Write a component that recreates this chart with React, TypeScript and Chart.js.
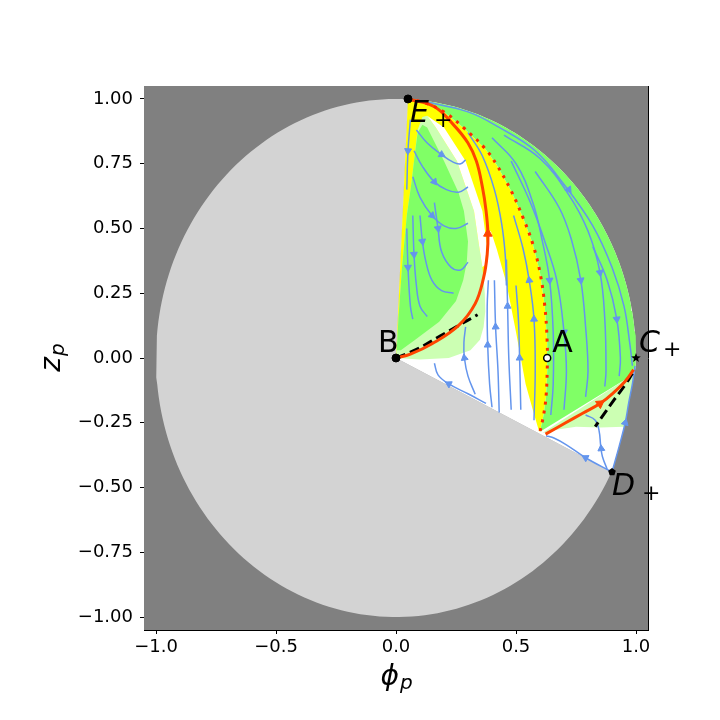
import React, { useEffect, useRef } from "react";
import { Chart, registerables } from "chart.js";

Chart.register(...registerables);

type Pt = [number, number];

// ---------- axes ----------
const AXIS_MIN = -1.05;
const AXIS_MAX = 1.05;
const X_TICKS = [-1, -0.5, 0, 0.5, 1];
const X_TICK_LABELS = ["\u22121.0", "\u22120.5", "0.0", "0.5", "1.0"];
const Y_TICKS = [-1, -0.75, -0.5, -0.25, 0, 0.25, 0.5, 0.75, 1];
const Y_TICK_LABELS = ["\u22121.00", "\u22120.75", "\u22120.50", "\u22120.25", "0.00", "0.25", "0.50", "0.75", "1.00"];

// ---------- critical points ----------
const POINT_NAMES = ["B", "A", "C", "D", "E"];
const POINT_SUBS = ["", "", "+", "+", "+"];
const POINT_X = [0, 0.63, 1.0, 0.9, 0.05];
const POINT_Y = [0, 0, 0, -0.44, 1.0];

// ---------- separatrices ----------
const ORANGE_E_TO_B: Pt[] = [
  [0.05, 1.0], [0.16, 0.97], [0.24, 0.9], [0.3, 0.83], [0.335, 0.76], [0.36, 0.66],
  [0.375, 0.57], [0.383, 0.48], [0.38, 0.4], [0.365, 0.31], [0.33, 0.21], [0.26, 0.125],
  [0.15, 0.055], [0.06, 0.015], [0, 0],
];
const ORANGE_C_SIDE: Pt[] = [
  [0.99, -0.045], [0.955, -0.09], [0.917, -0.125], [0.85, -0.176], [0.776, -0.214], [0.707, -0.25], [0.623, -0.294],
];
const RED_DOTTED: Pt[] = [
  [0.05, 1.0], [0.12, 0.985], [0.2, 0.95], [0.28, 0.89], [0.37, 0.81], [0.42, 0.745], [0.48, 0.645],
  [0.53, 0.54], [0.57, 0.44], [0.6, 0.33], [0.62, 0.2], [0.63, 0.06], [0.63, -0.05], [0.625, -0.15],
  [0.615, -0.22], [0.6, -0.285],
];
const DASHED_B: Pt[] = [[0, 0], [0.09, 0.035], [0.18, 0.083], [0.26, 0.125], [0.34, 0.167]];
const DASHED_C: Pt[] = [[0.985, -0.06], [0.95, -0.11], [0.91, -0.16], [0.87, -0.212], [0.83, -0.265]];
const EDGE_C_TO_D: Pt[] = [[0.9996, -0.03], [0.985, -0.1], [0.97, -0.17], [0.955, -0.25], [0.93, -0.34], [0.9, -0.44]];

// ---------- coloured regions ----------
const YELLOW_LEFT_EDGE: Pt[] = [[0.595, -0.28], [0.57, -0.2], [0.54, -0.1], [0.5, 0.1], [0.46, 0.29], [0.42, 0.42], [0.395, 0.49]];
const WHITE_STRIP: Pt[] = [
  [0.13, 0.935], [0.2, 0.89], [0.29, 0.76], [0.36, 0.567], [0.378, 0.44], [0.372, 0.36], [0.36, 0.35],
  [0.345, 0.44], [0.325, 0.567], [0.254, 0.76], [0.166, 0.89],
];
const LIGHT_GREEN_LOBE: Pt[] = [
  [0, 0], [0.01, 0.15], [0.025, 0.35], [0.045, 0.55], [0.065, 0.68], [0.08, 0.8], [0.09, 0.88], [0.11, 0.93],
  [0.13, 0.935], [0.166, 0.89], [0.254, 0.76], [0.325, 0.567], [0.345, 0.44], [0.36, 0.35], [0.37, 0.25],
  [0.372, 0.18], [0.365, 0.12], [0.35, 0.07], [0.31, 0.03], [0.22, 0.0], [0.1, -0.006],
];
const GREEN_LOBE: Pt[] = [
  [0.003, 0.03], [0.01, 0.15], [0.025, 0.35], [0.045, 0.55], [0.065, 0.68], [0.08, 0.8], [0.09, 0.87],
  [0.11, 0.9], [0.13, 0.89], [0.2, 0.76], [0.26, 0.64], [0.283, 0.567], [0.3, 0.45], [0.295, 0.37],
  [0.28, 0.3], [0.25, 0.22], [0.18, 0.14], [0.08, 0.07], [0.02, 0.03],
];
const GREEN_RIGHT_BOTTOM: Pt[] = [[0.97, -0.074]];
const LIGHT_GREEN_RIGHT: Pt[] = [
  [0.61, -0.29], [0.97, -0.074], [0.997, -0.03], [0.985, -0.1], [0.97, -0.17], [0.955, -0.25],
  [0.95, -0.265], [0.85, -0.268], [0.75, -0.265], [0.68, -0.275],
];

// ---------- stream lines ----------
const STREAMS: Pt[][] = [
  // right region (downwards)
  [[0.12, 0.99], [0.3, 0.95], [0.43, 0.89], [0.58, 0.8], [0.7, 0.67], [0.82, 0.51], [0.9, 0.35], [0.95, 0.2], [0.975, 0.05], [0.985, -0.03]],
  [[0.4, 0.85], [0.5, 0.75], [0.57, 0.6], [0.61, 0.45], [0.64, 0.3], [0.655, 0.1], [0.655, -0.1], [0.645, -0.22]],
  [[0.48, 0.76], [0.56, 0.6], [0.62, 0.45], [0.67, 0.3], [0.7, 0.1], [0.71, -0.05], [0.7, -0.2]],
  [[0.58, 0.72], [0.68, 0.58], [0.73, 0.46], [0.77, 0.3], [0.79, 0.12], [0.8, -0.05], [0.79, -0.15]],
  [[0.45, 0.86], [0.6, 0.77], [0.72, 0.63], [0.8, 0.49], [0.85, 0.33], [0.87, 0.15], [0.875, -0.05], [0.87, -0.11]],
  [[0.82, 0.43], [0.88, 0.3], [0.92, 0.15], [0.935, 0.0], [0.93, -0.07]],
  // yellow band (upwards)
  [[0.575, -0.24], [0.58, -0.05], [0.575, 0.15], [0.555, 0.3], [0.53, 0.42], [0.49, 0.55]],
  [[0.3, 0.87], [0.36, 0.78], [0.41, 0.65], [0.44, 0.52], [0.455, 0.4], [0.46, 0.28]],
  // white region (upwards)
  [[0.4, -0.19], [0.39, -0.1], [0.382, 0.05], [0.38, 0.2], [0.385, 0.3]],
  [[0.43, -0.21], [0.425, -0.05], [0.415, 0.12], [0.41, 0.3]],
  [[0.52, -0.2], [0.515, 0.0], [0.51, 0.15], [0.5, 0.28]],
  [[0.48, -0.2], [0.47, 0.0], [0.465, 0.2], [0.46, 0.38]],
  [[0.33, -0.14], [0.3, -0.07], [0.285, 0.0], [0.283, 0.06], [0.29, 0.12]],
  [[0.375, -0.175], [0.3, -0.138], [0.22, -0.1], [0.175, -0.065], [0.16, -0.02]],
  // around D+
  [[0.9, -0.44], [0.79, -0.385], [0.71, -0.335], [0.66, -0.31], [0.625, -0.3]],
  [[0.88, -0.43], [0.86, -0.38], [0.853, -0.34], [0.846, -0.28], [0.83, -0.24], [0.79, -0.22]],
  [[0.9, -0.44], [0.93, -0.34], [0.955, -0.25], [0.97, -0.17], [0.985, -0.1], [0.996, -0.03]],
  // left lobe (downwards, hooking)
  [[0.06, 0.92], [0.05, 0.8], [0.045, 0.65]],
  [[0.085, 0.88], [0.13, 0.83], [0.19, 0.785], [0.24, 0.755], [0.27, 0.75], [0.29, 0.765]],
  [[0.075, 0.8], [0.11, 0.74], [0.16, 0.68], [0.21, 0.65], [0.26, 0.64], [0.3, 0.66]],
  [[0.07, 0.7], [0.1, 0.62], [0.15, 0.55], [0.2, 0.51], [0.25, 0.5], [0.3, 0.52]],
  [[0.16, 0.6], [0.175, 0.5], [0.19, 0.41], [0.23, 0.35], [0.27, 0.34], [0.3, 0.37]],
  [[0.1, 0.55], [0.11, 0.45], [0.125, 0.37], [0.15, 0.3], [0.19, 0.26], [0.24, 0.25]],
  [[0.045, 0.5], [0.05, 0.35], [0.06, 0.2], [0.07, 0.15]],
  [[0.07, 0.55], [0.075, 0.4], [0.085, 0.28], [0.1, 0.2], [0.13, 0.16]],
];
const STREAM_ARROW_X = [0.72, 0.64, 0.7, 0.77, 0.85, 0.92, 0.575, 0.555, 0.382, 0.415, 0.515, 0.465, 0.285, 0.22, 0.79, 0.855, 0.955, 0.05, 0.19, 0.16, 0.15, 0.175, 0.11, 0.05, 0.075];
const STREAM_ARROW_Y = [0.65, 0.3, 0.1, 0.3, 0.33, 0.15, 0.15, 0.3, 0.05, 0.12, 0.0, 0.2, 0.0, -0.1, -0.385, -0.35, -0.25, 0.8, 0.785, 0.68, 0.55, 0.5, 0.45, 0.35, 0.4];
const STREAM_ARROW_DEG = [145, 176, 177, 172, 170, 175, 359, 352, 0, 358, 359, 0, 350, 298, 298, 355, 15, 183, 120, 141, 135, 170, 172, 178, 176];
const ORANGE_ARROW_X = [0.383, 0.85];
const ORANGE_ARROW_Y = [0.48, -0.176];
const ORANGE_ARROW_DEG = [0, 55];

// ---------- colours ----------
const GREY = "#808080";
const LIGHT_GREY = "#d3d3d3";
const GREEN = "#80ff66";
const LIGHT_GREEN = "#ccffb3";
const YELLOW = "#ffff00";
const BLUE = "#6495ed";
const ORANGE = "#ff4500";
const RED = "#ff2a00";

const FONT = "DejaVu Sans";

const xy = (pts: Pt[]) => pts.map(([x, y]) => ({ x, y }));
const deg = (x: number, y: number) => (Math.atan2(y, x) * 180) / Math.PI;
const arc = (a0: number, a1: number, n: number): Pt[] =>
  Array.from({ length: n + 1 }, (_, i) => {
    const a = ((a0 + ((a1 - a0) * i) / n) * Math.PI) / 180;
    return [Math.cos(a), Math.sin(a)] as Pt;
  });

function makeStar(r: number) {
  const c = document.createElement("canvas");
  c.width = c.height = 2 * r + 2;
  const g = c.getContext("2d")!;
  g.beginPath();
  for (let i = 0; i < 10; i++) {
    const rad = i % 2 ? r * 0.42 : r;
    const a = -Math.PI / 2 + (i * Math.PI) / 5;
    g.lineTo(r + 1 + rad * Math.cos(a), r + 1 + rad * Math.sin(a));
  }
  g.closePath();
  g.fillStyle = "#000";
  g.fill();
  return c;
}
function makePentagon(r: number) {
  const c = document.createElement("canvas");
  c.width = c.height = 2 * r + 2;
  const g = c.getContext("2d")!;
  g.beginPath();
  for (let i = 0; i < 5; i++) {
    const a = -Math.PI / 2 + (i * 2 * Math.PI) / 5;
    g.lineTo(r + 1 + r * Math.cos(a), r + 1 + r * Math.sin(a));
  }
  g.closePath();
  g.fillStyle = "#000";
  g.fill();
  return c;
}

const poly = (pts: Pt[], color: string) => ({
  data: xy(pts),
  fill: "shape",
  backgroundColor: color,
  borderColor: "rgba(0,0,0,0)",
  borderWidth: 0,
  pointRadius: 0,
  tension: 0,
});
const curve = (pts: Pt[], color: string, width: number, dash: number[] = []) => ({
  data: xy(pts),
  fill: false,
  borderColor: color,
  borderWidth: width,
  borderDash: dash,
  pointRadius: 0,
  tension: 0.4,
});
const markers = (xs: number[], ys: number[], opts: any) => ({
  data: xs.map((x, i) => ({ x, y: ys[i] })),
  showLine: false,
  fill: false,
  ...opts,
});

// label offsets in pixels from the marked point
const LABEL_DX = [-18, 5, 3, 0, 2];
const LABEL_DY = [-6, -6, -6, 23.5, 23];
const SUB_DX = [0, 0, 27, 30, 26];
const SUB_DY = [0, 0, -2, 28.5, 28];
const LABEL_ITALIC = [false, false, true, true, true];

const textPlugin = {
  id: "texts",
  afterDraw(chart: any) {
    const { ctx, chartArea } = chart;
    const sx = chart.scales.x;
    const sy = chart.scales.y;
    ctx.save();
    ctx.fillStyle = "#000";
    ctx.textBaseline = "alphabetic";
    ctx.textAlign = "left";
    POINT_NAMES.forEach((name, i) => {
      const px = sx.getPixelForValue(POINT_X[i]);
      const py = sy.getPixelForValue(POINT_Y[i]);
      ctx.font = `${LABEL_ITALIC[i] ? "italic " : ""}30px "${FONT}"`;
      ctx.fillText(name, px + LABEL_DX[i], py + LABEL_DY[i]);
      if (POINT_SUBS[i]) {
        ctx.font = `22px "${FONT}"`;
        ctx.fillText(POINT_SUBS[i], px + SUB_DX[i], py + SUB_DY[i]);
      }
    });
    // x title: phi_p
    const cx = (chartArea.left + chartArea.right) / 2;
    ctx.font = `italic 28px "${FONT}"`;
    const w1 = ctx.measureText("\u03d5").width;
    ctx.font = `italic 20px "${FONT}"`;
    const w2 = ctx.measureText("p").width;
    const x0 = cx - (w1 + w2) / 2;
    ctx.font = `italic 28px "${FONT}"`;
    ctx.fillText("\u03d5", x0, chartArea.bottom + 55);
    ctx.font = `italic 20px "${FONT}"`;
    ctx.fillText("p", x0 + w1 + 1, chartArea.bottom + 59);
    // y title: z_p
    const cy = (chartArea.top + chartArea.bottom) / 2;
    ctx.translate(chartArea.left - 84, cy);
    ctx.rotate(-Math.PI / 2);
    ctx.font = `italic 28px "${FONT}"`;
    const z1 = ctx.measureText("z").width;
    ctx.font = `italic 20px "${FONT}"`;
    const z2 = ctx.measureText("p").width;
    const u0 = -(z1 + z2) / 2;
    ctx.font = `italic 28px "${FONT}"`;
    ctx.fillText("z", u0, 0);
    ctx.font = `italic 20px "${FONT}"`;
    ctx.fillText("p", u0 + z1 + 1, 4);
    ctx.restore();
  },
};

export default function App() {
  const ref = useRef<HTMLCanvasElement>(null);

  useEffect(() => {
    if (!ref.current) return;
    const B: Pt = [POINT_X[0], POINT_Y[0]];
    const E: Pt = [POINT_X[4], POINT_Y[4]];
    const angleE = deg(POINT_X[4], POINT_Y[4]);
    const angleD = deg(POINT_X[3], POINT_Y[3]);
    const angleC = deg(EDGE_C_TO_D[0][0], EDGE_C_TO_D[0][1]);

    const background: Pt[] = [[AXIS_MIN, AXIS_MIN], [AXIS_MAX, AXIS_MIN], [AXIS_MAX, AXIS_MAX], [AXIS_MIN, AXIS_MAX], [AXIS_MIN, AXIS_MIN]];
    const greySector: Pt[] = [B, ...arc(angleE, 360 + angleD, 160), B];
    const physical: Pt[] = [B, E, ...arc(angleE, angleC, 80), ...EDGE_C_TO_D, B];
    const yellow: Pt[] = [E, ...RED_DOTTED.slice(1), ...YELLOW_LEFT_EDGE, ...ORANGE_E_TO_B.slice(7), E];
    const greenRight: Pt[] = [...RED_DOTTED, ...GREEN_RIGHT_BOTTOM, ...arc(angleC, angleE, 80)];

    const layers: any[] = [
      poly(background, GREY),
      poly(greySector, LIGHT_GREY),
      poly(physical, "#ffffff"),
      poly(yellow, YELLOW),
      poly(LIGHT_GREEN_LOBE, LIGHT_GREEN),
      poly(WHITE_STRIP, "#ffffff"),
      poly(GREEN_LOBE, GREEN),
      poly(greenRight, GREEN),
      poly(LIGHT_GREEN_RIGHT, LIGHT_GREEN),
      ...STREAMS.map((s) => curve(s, BLUE, 1.5)),
      markers(STREAM_ARROW_X, STREAM_ARROW_Y, {
        pointStyle: "triangle",
        pointRadius: 4,
        pointRotation: STREAM_ARROW_DEG,
        pointBackgroundColor: BLUE,
        pointBorderColor: BLUE,
        pointBorderWidth: 1,
      }),
      curve(DASHED_B, "#000", 3, [10, 5]),
      curve(DASHED_C, "#000", 3, [10, 5]),
      curve(ORANGE_E_TO_B, ORANGE, 3),
      curve(ORANGE_C_SIDE, ORANGE, 3),
      curve(RED_DOTTED, RED, 3, [3, 6]),
      markers(ORANGE_ARROW_X, ORANGE_ARROW_Y, {
        pointStyle: "triangle",
        pointRadius: 5,
        pointRotation: ORANGE_ARROW_DEG,
        pointBackgroundColor: ORANGE,
        pointBorderColor: ORANGE,
        pointBorderWidth: 1,
      }),
      markers([POINT_X[0], POINT_X[4]], [POINT_Y[0], POINT_Y[4]], {
        pointStyle: "circle",
        pointRadius: 4,
        pointBackgroundColor: "#000",
        pointBorderColor: "#000",
        pointBorderWidth: 1,
      }),
      markers([POINT_X[1]], [POINT_Y[1]], {
        pointStyle: "circle",
        pointRadius: 3.5,
        pointBackgroundColor: "#ffffff",
        pointBorderColor: "#000",
        pointBorderWidth: 1.5,
      }),
      markers([POINT_X[2]], [POINT_Y[2]], { pointStyle: makeStar(5), pointRadius: 5 }),
      markers([POINT_X[3]], [POINT_Y[3]], { pointStyle: makePentagon(4), pointRadius: 4 }),
    ];
    const n = layers.length;
    layers.forEach((d, i) => (d.order = n - i));

    const axisCommon = {
      type: "linear",
      min: AXIS_MIN,
      max: AXIS_MAX,
      border: { display: true, color: "#000", width: 1 },
    };

    const chart = new Chart(ref.current, {
      type: "line",
      data: { datasets: layers },
      plugins: [textPlugin],
      options: {
        responsive: false,
        animation: false,
        devicePixelRatio: 1,
        events: [],
        layout: { padding: { left: 0, right: 72, top: 86, bottom: 0 } },
        plugins: { legend: { display: false }, tooltip: { enabled: false } },
        scales: {
          x: {
            ...axisCommon,
            position: "bottom",
            afterFit: (s: any) => { s.height = 90; },
            afterBuildTicks: (s: any) => { s.ticks = X_TICKS.map((v) => ({ value: v })); },
            ticks: {
              callback: (v: any) => X_TICK_LABELS[X_TICKS.indexOf(Number(v))] ?? "",
              font: { family: FONT, size: 18 },
              color: "#000",
              padding: 3,
              maxRotation: 0,
              autoSkip: false,
            },
            grid: { drawOnChartArea: false, drawTicks: true, tickLength: 4, tickColor: "#000", tickWidth: 1 },
          },
          y: {
            ...axisCommon,
            position: "left",
            afterFit: (s: any) => { s.width = 144; },
            afterBuildTicks: (s: any) => { s.ticks = Y_TICKS.map((v) => ({ value: v })); },
            ticks: {
              callback: (v: any) => Y_TICK_LABELS[Y_TICKS.indexOf(Number(v))] ?? "",
              font: { family: FONT, size: 18 },
              color: "#000",
              padding: 7,
              autoSkip: false,
            },
            grid: { drawOnChartArea: false, drawTicks: true, tickLength: 4, tickColor: "#000", tickWidth: 1 },
          },
          x2: {
            ...axisCommon,
            position: "top",
            afterFit: (s: any) => { s.height = 0; },
            ticks: { display: false },
            grid: { drawOnChartArea: false, drawTicks: false },
          },
          y2: {
            ...axisCommon,
            position: "right",
            afterFit: (s: any) => { s.width = 0; },
            ticks: { display: false },
            grid: { drawOnChartArea: false, drawTicks: false },
          },
        },
      } as any,
    } as any);
    return () => chart.destroy();
  }, []);

  return (
    <canvas
      ref={ref}
      width={720}
      height={720}
      style={{ position: "absolute", left: 0, top: 0, width: 720, height: 720 }}
    />
  );
}
